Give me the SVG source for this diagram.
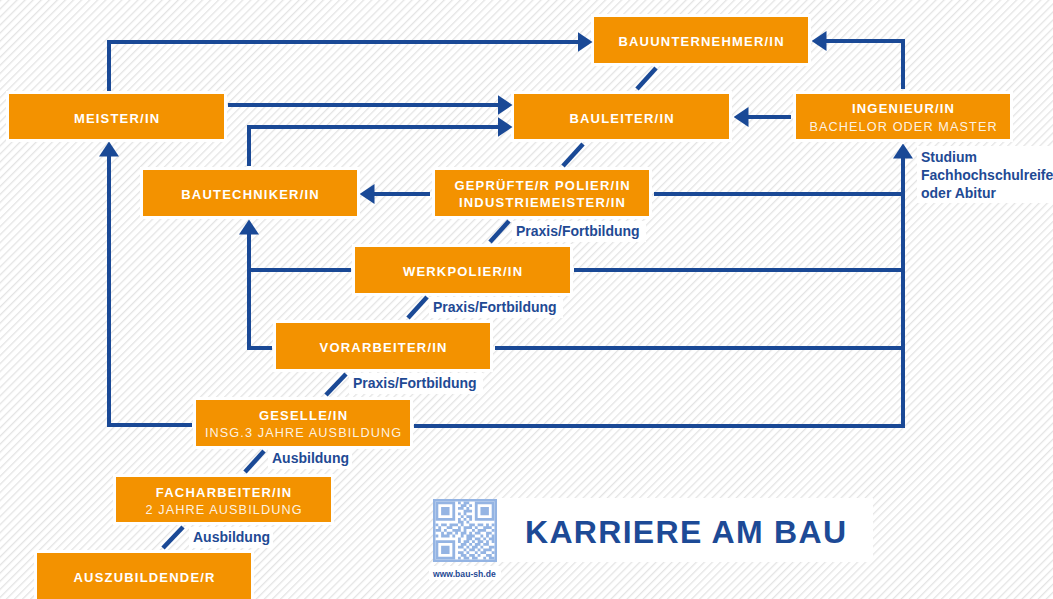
<svg xmlns="http://www.w3.org/2000/svg" width="1053" height="599" viewBox="0 0 1053 599">
<defs>
<pattern id="stripes" patternUnits="userSpaceOnUse" width="5.7" height="10" patternTransform="rotate(45)"><rect width="1.3" height="10" fill="#e4e4e4"/></pattern>
<marker id="arr" markerUnits="userSpaceOnUse" viewBox="0 -10 15 20" markerWidth="15" markerHeight="20" refX="0.5" refY="0" orient="auto"><path d="M0,-10 L15,0 L0,10 z" fill="#1a4996"/></marker>
<style>
.halo{fill:#fff}
.box{fill:#f39200}
.t{font-family:"Liberation Sans",Arial,sans-serif;font-weight:bold;font-size:13px;letter-spacing:1.2px;fill:#fff;text-anchor:middle}
.s{font-family:"Liberation Sans",Arial,sans-serif;font-weight:normal;font-size:12.7px;letter-spacing:1.1px;fill:#fff;fill-opacity:0.9;text-anchor:middle}
.c{fill:none;stroke:#1a4996;stroke-width:4;stroke-linejoin:miter}
.sl{stroke:#1a4996;stroke-width:4.5}
.lb{font-family:"Liberation Sans",Arial,sans-serif;font-weight:bold;font-size:14px;fill:#1f4a94}
</style>
</defs>
<rect width="1053" height="599" fill="#fff"/>
<rect width="1053" height="599" fill="url(#stripes)"/>
<g id="halos">
<rect class="halo" x="591" y="14" width="220" height="52"/>
<rect class="halo" x="6" y="91" width="221" height="51"/>
<rect class="halo" x="511" y="91" width="221" height="51"/>
<rect class="halo" x="793" y="91" width="220" height="51"/>
<rect class="halo" x="140" y="167" width="220" height="52"/>
<rect class="halo" x="432" y="167" width="220" height="52"/>
<rect class="halo" x="352" y="244" width="221" height="52"/>
<rect class="halo" x="273" y="320" width="220" height="52"/>
<rect class="halo" x="193" y="397" width="220" height="52"/>
<rect class="halo" x="113" y="474" width="221" height="51"/>
<rect class="halo" x="34" y="550" width="220" height="52"/>
<rect class="halo" x="512" y="221" width="134" height="21"/>
<rect class="halo" x="429" y="297" width="134" height="21"/>
<rect class="halo" x="349" y="373" width="134" height="21"/>
<rect class="halo" x="268" y="448" width="84" height="21"/>
<rect class="halo" x="189" y="527" width="84" height="21"/>
<rect class="halo" x="917" y="146" width="136" height="57"/>
<rect class="halo" x="497" y="498" width="376" height="64"/>
<rect class="halo" x="429" y="566" width="72" height="14"/>
</g>
<g id="connectors">
<polyline class="c" points="109,91 109,42 578,42" marker-end="url(#arr)"/>
<polyline class="c" points="228,105 498,105" marker-end="url(#arr)"/>
<polyline class="c" points="249,166 249,127 498,127" marker-end="url(#arr)"/>
<polyline class="c" points="791,117 748,117" marker-end="url(#arr)"/>
<polyline class="c" points="903,89 903,41 826,41" marker-end="url(#arr)"/>
<polyline class="c" points="430,194 374,194" marker-end="url(#arr)"/>
<polyline class="c" points="414,426 903,426 903,158" marker-end="url(#arr)"/>
<polyline class="c" points="654,194 903,194"/>
<polyline class="c" points="574,270 903,270"/>
<polyline class="c" points="495,348 903,348"/>
<polyline class="c" points="351,270 249,270"/>
<polyline class="c" points="272,348 249,348 249,234" marker-end="url(#arr)"/>
<polyline class="c" points="192,425 109,425 109,156" marker-end="url(#arr)"/>
<line class="sl" x1="656" y1="68" x2="637" y2="89"/>
<line class="sl" x1="583" y1="144" x2="563" y2="166"/>
<line class="sl" x1="509" y1="221" x2="490" y2="242"/>
<line class="sl" x1="427" y1="297" x2="408" y2="318"/>
<line class="sl" x1="346" y1="374" x2="326" y2="395"/>
<line class="sl" x1="264" y1="451" x2="245" y2="472"/>
<line class="sl" x1="183" y1="527" x2="163" y2="548"/>
</g>
<g id="labels">
<text class="lb" x="516" y="236">Praxis/Fortbildung</text>
<text class="lb" x="433" y="312">Praxis/Fortbildung</text>
<text class="lb" x="353" y="388">Praxis/Fortbildung</text>
<text class="lb" x="272" y="463">Ausbildung</text>
<text class="lb" x="193" y="542">Ausbildung</text>
<text class="lb" x="921" y="162">Studium</text>
<text class="lb" x="921" y="180">Fachhochschulreife</text>
<text class="lb" x="921" y="198">oder Abitur</text>
</g>
<g id="bauunternehmer"><rect class="box" x="594" y="17" width="214" height="46"/><text class="t" x="701.6" y="46">BAUUNTERNEHMER/IN</text></g>
<g id="meister"><rect class="box" x="9" y="94" width="215" height="45"/><text class="t" x="117.1" y="122.5">MEISTER/IN</text></g>
<g id="bauleiter"><rect class="box" x="514" y="94" width="215" height="45"/><text class="t" x="622.1" y="122.5">BAULEITER/IN</text></g>
<g id="ingenieur"><rect class="box" x="796" y="94" width="214" height="45"/><text class="t" x="903.6" y="113">INGENIEUR/IN</text><text class="s" x="903.6" y="131">BACHELOR ODER MASTER</text></g>
<g id="bautechniker"><rect class="box" x="143" y="170" width="214" height="46"/><text class="t" x="250.6" y="199">BAUTECHNIKER/IN</text></g>
<g id="gepruefte"><rect class="box" x="435" y="170" width="214" height="46"/><text class="t" x="542.6" y="189.5">GEPRÜFTE/R POLIER/IN</text><text class="t" x="542.6" y="207">INDUSTRIEMEISTER/IN</text></g>
<g id="werkpolier"><rect class="box" x="355" y="247" width="215" height="46"/><text class="t" x="463.1" y="276">WERKPOLIER/IN</text></g>
<g id="vorarbeiter"><rect class="box" x="276" y="323" width="214" height="46"/><text class="t" x="383.6" y="352">VORARBEITER/IN</text></g>
<g id="geselle"><rect class="box" x="196" y="400" width="214" height="46"/><text class="t" x="303.6" y="419.5">GESELLE/IN</text><text class="s" x="303.6" y="437">INSG.3 JAHRE AUSBILDUNG</text></g>
<g id="facharbeiter"><rect class="box" x="116" y="477" width="215" height="45"/><text class="t" x="224.1" y="496.5">FACHARBEITER/IN</text><text class="s" x="224.1" y="513.5">2 JAHRE AUSBILDUNG</text></g>
<g id="auszubildende"><rect class="box" x="37" y="553" width="214" height="46"/><text class="t" x="144.6" y="582">AUSZUBILDENDE/R</text></g>
<g id="brand">
<rect x="433" y="499" width="64" height="63" fill="#94b4e3"/>
<rect x="435.5" y="501.5" width="59" height="58" fill="#fff"/>
<path transform="translate(435.5,501.5) scale(2.81,2.76)" fill="#94b4e3" d="M0 0h7v1h-7zM8 0h1v1h-1zM10 0h2v1h-2zM14 0h7v1h-7zM0 1h1v1h-1zM6 1h1v1h-1zM9 1h2v1h-2zM12 1h1v1h-1zM14 1h1v1h-1zM20 1h1v1h-1zM0 2h1v1h-1zM2 2h3v1h-3zM6 2h1v1h-1zM8 2h2v1h-2zM11 2h1v1h-1zM14 2h1v1h-1zM16 2h3v1h-3zM20 2h1v1h-1zM0 3h1v1h-1zM2 3h3v1h-3zM6 3h1v1h-1zM10 3h3v1h-3zM14 3h1v1h-1zM16 3h3v1h-3zM20 3h1v1h-1zM0 4h1v1h-1zM2 4h3v1h-3zM6 4h1v1h-1zM8 4h1v1h-1zM10 4h1v1h-1zM14 4h1v1h-1zM16 4h3v1h-3zM20 4h1v1h-1zM0 5h1v1h-1zM6 5h1v1h-1zM9 5h1v1h-1zM11 5h2v1h-2zM14 5h1v1h-1zM20 5h1v1h-1zM0 6h7v1h-7zM8 6h1v1h-1zM10 6h1v1h-1zM12 6h1v1h-1zM14 6h7v1h-7zM8 7h2v1h-2zM11 7h1v1h-1zM0 8h1v1h-1zM2 8h2v1h-2zM5 8h3v1h-3zM9 8h1v1h-1zM12 8h2v1h-2zM15 8h2v1h-2zM18 8h1v1h-1zM20 8h1v1h-1zM1 9h1v1h-1zM4 9h2v1h-2zM8 9h1v1h-1zM10 9h3v1h-3zM14 9h1v1h-1zM17 9h3v1h-3zM0 10h2v1h-2zM3 10h1v1h-1zM6 10h3v1h-3zM10 10h1v1h-1zM13 10h1v1h-1zM15 10h3v1h-3zM20 10h1v1h-1zM2 11h1v1h-1zM4 11h2v1h-2zM7 11h1v1h-1zM9 11h2v1h-2zM12 11h1v1h-1zM14 11h2v1h-2zM18 11h2v1h-2zM0 12h1v1h-1zM2 12h3v1h-3zM6 12h1v1h-1zM9 12h1v1h-1zM11 12h3v1h-3zM16 12h1v1h-1zM18 12h1v1h-1zM20 12h1v1h-1zM8 13h1v1h-1zM11 13h2v1h-2zM14 13h2v1h-2zM17 13h1v1h-1zM19 13h2v1h-2zM0 14h7v1h-7zM8 14h1v1h-1zM10 14h2v1h-2zM13 14h1v1h-1zM15 14h2v1h-2zM18 14h1v1h-1zM20 14h1v1h-1zM0 15h1v1h-1zM6 15h1v1h-1zM9 15h2v1h-2zM12 15h1v1h-1zM14 15h2v1h-2zM17 15h2v1h-2zM0 16h1v1h-1zM2 16h3v1h-3zM6 16h1v1h-1zM8 16h2v1h-2zM11 16h1v1h-1zM13 16h2v1h-2zM16 16h1v1h-1zM19 16h2v1h-2zM0 17h1v1h-1zM2 17h3v1h-3zM6 17h1v1h-1zM10 17h1v1h-1zM12 17h2v1h-2zM15 17h1v1h-1zM17 17h3v1h-3zM0 18h1v1h-1zM2 18h3v1h-3zM6 18h1v1h-1zM8 18h2v1h-2zM11 18h1v1h-1zM14 18h1v1h-1zM16 18h2v1h-2zM20 18h1v1h-1zM0 19h1v1h-1zM6 19h1v1h-1zM9 19h2v1h-2zM12 19h2v1h-2zM15 19h1v1h-1zM18 19h2v1h-2zM0 20h7v1h-7zM8 20h1v1h-1zM10 20h2v1h-2zM13 20h2v1h-2zM17 20h1v1h-1zM19 20h2v1h-2z"/>
<text x="433" y="577" font-family="'Liberation Sans',Arial,sans-serif" font-weight="bold" font-size="8.6" fill="#1f4a94">www.bau-sh.de</text>
<text x="525" y="543" font-family="'Liberation Sans',Arial,sans-serif" font-weight="bold" font-size="32" letter-spacing="1.3" fill="#1d4a96">KARRIERE AM BAU</text>
</g>
</svg>
